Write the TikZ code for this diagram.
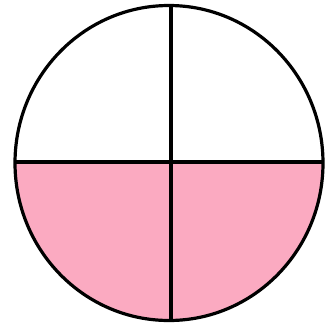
\documentclass[tikz,border=0pt]{standalone}
\usepackage{xcolor}
\usepackage{tikz}
\usetikzlibrary{backgrounds}
\definecolor{halffill}{RGB}{251,170,193}
\tikzset{
  rim/.style={draw=black, line width=3.2pt},
  divider/.style={draw=black, line width=3.2pt},
  shaded/.style={fill=halffill}
}

\begin{document}
\begin{tikzpicture}[x=1pt,y=-1pt]
    \useasboundingbox (0,0) rectangle (327,327);

    \coordinate (centre) at (169,163);
    \coordinate (top) at (171,7);
    \coordinate (bottom) at (171,322);
    \coordinate (left) at (15,162);
    \coordinate (right) at (323,162);

    % lower half filled
    \path[shaded] (left) -- (right)
      arc[start angle=0, end angle=180, x radius=154, y radius=159] -- cycle;

    \draw[divider] (left) -- (right);
    \draw[divider] (top) -- (bottom);

    \draw[rim] (centre) ellipse[x radius=154, y radius=157.5];
  \end{tikzpicture}
\end{document}
